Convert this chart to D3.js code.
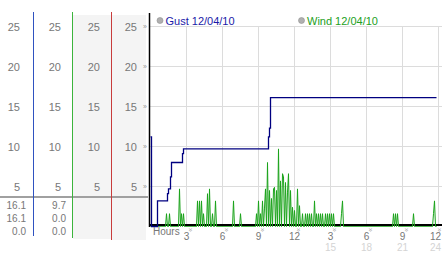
<!DOCTYPE html>
<html>
  <head>
    <meta charset="utf-8">
    <title>Gust and Wind 12/04/10</title>
    <style>
      body { margin: 0; background: #fff; }
      text { font-family: "Liberation Sans", Arial, sans-serif; }
    </style>
  </head>

  <body>
    <div id="container"></div>
  </body>

  <script src="https://cdn.jsdelivr.net/npm/d3@7"></script>

  <script>
  // 5 minute samples, index 0 = midnight
  var gustSteps = [[0, 11.2], [1, 0], [7, 3.2], [17, 4.1], [18, 4.7], [20, 6.2], [21, 8.0],
    [32, 9.1], [33, 9.7], [118, 11.2], [119, 12.3], [120, 16.1], [286, 16.1]];
  // nonzero wind readings [sample index, mph], the rest read as 0
  var windSpikes = [[16, 1.6], [19, 1.6], [29, 4.7], [31, 1.6], [33, 1.6],
    [47, 3.2], [49, 3.2], [51, 3.2], [53, 1.6], [57, 4.1], [59, 4.7], [62, 1.6], [65, 3.2],
    [83, 3.2], [90, 1.6], [106, 1.6], [108, 3.2], [110, 1.6], [112, 3.2], [114, 2.3],
    [115, 4.7], [117, 8.0], [119, 4.5], [121, 3.5], [123, 4.7], [124, 4.9], [126, 4.5],
    [128, 9.7], [130, 5.7], [132, 6.6], [133, 6.2], [135, 5.5], [137, 4.3], [138, 6.6],
    [140, 4.5], [142, 2.4], [144, 2.0], [147, 4.7], [149, 2.6], [152, 1.6], [155, 1.6],
    [157, 1.6], [159, 1.6], [161, 1.6], [164, 3.2], [166, 1.6], [168, 1.6], [170, 1.6],
    [172, 1.6], [175, 1.6], [177, 1.6], [179, 1.6], [181, 1.6], [183, 1.6], [191, 1.6],
    [192, 3.2], [243, 1.6], [245, 1.6], [247, 1.6], [263, 1.6], [283, 1.6], [284, 3.2]];
  var sampleCount = 287;

  var yTicks = [5, 10, 15, 20, 25];
  var xTicks = [3, 6, 9, 12, 15, 18, 21, 24];
  var xLabels = ["3", "6", "9", "12", "3", "6", "9", "12"];
  var xLabels2 = ["", "", "", "", "15", "18", "21", "24"];
  var gustSummary = ["16.1", "16.1", "0.0"];
  var windSummary = ["9.7", "0.0", "0.0"];
  var seriesNames = ["Gust 12/04/10", "Wind 12/04/10"];

  function main() {
    var width = 442, height = 253;
    var svg = d3.select("#container").append("svg")
      .attr("width", width)
      .attr("height", height);

    var x = d3.scaleLinear().domain([0, 24]).range([150.5, 438.5]);
    var y = d3.scaleLinear().domain([0, 25]).range([226.5, 26.5]);

    // left side panels
    svg.append("rect").attr("x", 73).attr("y", 15).attr("width", 38).attr("height", 224).attr("fill", "#f4f4f4");
    svg.append("rect").attr("x", 112).attr("y", 15).attr("width", 34).attr("height", 225).attr("fill", "#f4f4f4");

    var colRight = [20, 61, 100, 137];
    colRight.forEach(function(cx) {
      svg.append("g").selectAll("text")
        .data(yTicks)
        .enter().append("text")
        .attr("x", cx)
        .attr("y", function(d) { return y(d) + 4; })
        .attr("text-anchor", "end")
        .attr("font-size", 11)
        .attr("fill", "#777")
        .text(function(d) { return d; });
    });

    svg.append("line").attr("x1", 0).attr("x2", 148).attr("y1", 197).attr("y2", 197)
      .attr("stroke", "#a0a0a0").attr("stroke-width", 2);

    var colLines = [[33.5, "#2f52c0", 236], [72.5, "#3cb43c", 238], [111.5, "#c83c3c", 240]];
    colLines.forEach(function(c) {
      svg.append("line").attr("x1", c[0]).attr("x2", c[0]).attr("y1", 12).attr("y2", c[2])
        .attr("stroke", c[1]).attr("stroke-width", 1);
    });

    var sumY = [208.5, 222, 235];
    [[gustSummary, 26], [windSummary, 66]].forEach(function(s) {
      svg.append("g").selectAll("text")
        .data(s[0])
        .enter().append("text")
        .attr("x", s[1])
        .attr("y", function(d, i) { return sumY[i]; })
        .attr("text-anchor", "end")
        .attr("font-size", 10)
        .attr("fill", "#777")
        .text(function(d) { return d; });
    });

    // grid
    var grid = svg.append("g").attr("stroke", "#dcdcdc").attr("stroke-width", 1);
    grid.selectAll("line.h")
      .data(yTicks)
      .enter().append("line")
      .attr("x1", 150).attr("x2", width)
      .attr("y1", function(d) { return y(d); })
      .attr("y2", function(d) { return y(d); });
    grid.selectAll("line.v")
      .data(xTicks)
      .enter().append("line")
      .attr("x1", function(d) { return x(d); })
      .attr("x2", function(d) { return x(d); })
      .attr("y1", y(25)).attr("y2", y(0));

    // y tick marks
    svg.append("g").selectAll("text")
      .data(yTicks)
      .enter().append("text")
      .attr("x", 145)
      .attr("y", function(d) { return y(d) + 2; })
      .attr("text-anchor", "middle")
      .attr("font-size", 7)
      .attr("fill", "#999")
      .text("\u00bb");

    // axes
    svg.append("line").attr("x1", 150).attr("x2", width).attr("y1", 225).attr("y2", 225)
      .attr("stroke", "#000").attr("stroke-width", 2);
    svg.append("line").attr("x1", 149.5).attr("x2", 149.5).attr("y1", 13).attr("y2", 227)
      .attr("stroke", "#000").attr("stroke-width", 1.5);

    // wind
    var windMap = new Map(windSpikes);
    var wind = d3.range(sampleCount).map(function(i) {
      return [i, windMap.has(i) ? windMap.get(i) : 0];
    });
    var line = d3.line()
      .x(function(d) { return x(d[0] / 12); })
      .y(function(d) { return y(d[1]); });
    svg.append("path")
      .datum(wind)
      .attr("d", line)
      .attr("fill", "none")
      .attr("stroke", "#1aa31a")
      .attr("stroke-width", 1);

    // gust
    svg.append("path")
      .datum(gustSteps)
      .attr("d", line.curve(d3.curveStepAfter))
      .attr("fill", "none")
      .attr("stroke", "#000080")
      .attr("stroke-width", 1.3);

    // x axis labels
    svg.append("text").attr("x", 153).attr("y", 235).attr("font-size", 10).attr("fill", "#777").text("Hours");
    var last = xTicks.length - 1;
    var xl = svg.append("g").selectAll("g")
      .data(xTicks)
      .enter().append("g")
      .attr("transform", function(d, i) {
        return "translate(" + (i === last ? x(d) - 3 : x(d)) + ",0)";
      });
    xl.append("text")
      .attr("transform", "translate(1,230) rotate(90)")
      .attr("text-anchor", "middle")
      .attr("font-size", 7)
      .attr("fill", "#999")
      .text("\u00bb");
    xl.append("text")
      .attr("y", 240)
      .attr("text-anchor", "middle")
      .attr("font-size", 10)
      .attr("fill", "#777")
      .text(function(d, i) { return xLabels[i]; });
    xl.append("text")
      .attr("y", 251)
      .attr("text-anchor", "middle")
      .attr("font-size", 10)
      .attr("fill", "#d4d4d4")
      .text(function(d, i) { return xLabels2[i]; });

    // legend
    var legX = [160, 301.5];
    var legColor = ["#1a1aa8", "#22a022"];
    seriesNames.forEach(function(name, i) {
      svg.append("circle").attr("cx", legX[i]).attr("cy", 20.5).attr("r", 3)
        .attr("fill", "#b0b0b0").attr("stroke", "#909090").attr("stroke-width", 0.6);
      svg.append("text").attr("x", legX[i] + 5.5).attr("y", 24.5)
        .attr("font-size", 11).attr("fill", legColor[i]).text(name);
    });
  }

  window.onload = main;
  </script>
</html>
